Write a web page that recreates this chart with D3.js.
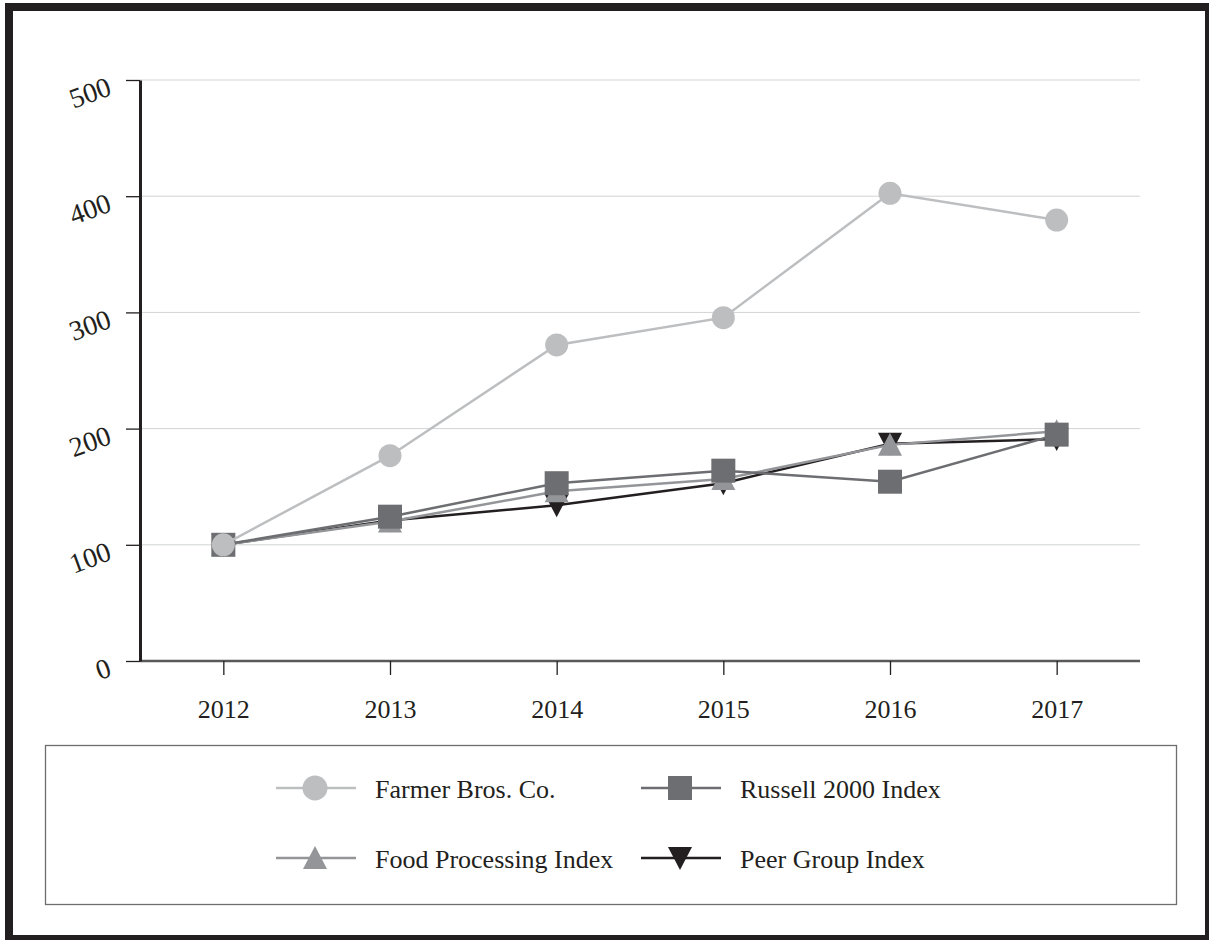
<!DOCTYPE html>
<html>
<head>
<meta charset="utf-8">
<script src="https://cdn.jsdelivr.net/npm/d3@7"></script>
<style>
    body { margin: 0; background: #fff; }
    svg { display: block; font-family: "Liberation Serif", "Times New Roman", serif; }
</style>
</head>
<body>
<div id="chart"></div>
<script>
const years = ['2012', '2013', '2014', '2015', '2016', '2017'];
const farmerBros = [100, 176.7, 272, 295.5, 402.5, 379.5];
const russell2000 = [100, 124.2, 153, 163.8, 154.3, 194.8];
const foodProcessing = [100, 120, 146, 156.6, 186, 197.7];
const peerGroup = [100, 121, 134, 153, 187, 191];
const yTicks = [0, 100, 200, 300, 400, 500];

const series = [
    { name: 'Peer Group Index', values: peerGroup, color: '#231f20', marker: 'down' },
    { name: 'Food Processing Index', values: foodProcessing, color: '#939598', marker: 'up' },
    { name: 'Russell 2000 Index', values: russell2000, color: '#6d6e71', marker: 'square' },
    { name: 'Farmer Bros. Co.', values: farmerBros, color: '#bcbec0', marker: 'circle' }
];

const legendOrder = [
    { name: 'Farmer Bros. Co.', color: '#bcbec0', marker: 'circle', col: 0, row: 0 },
    { name: 'Russell 2000 Index', color: '#6d6e71', marker: 'square', col: 1, row: 0 },
    { name: 'Food Processing Index', color: '#939598', marker: 'up', col: 0, row: 1 },
    { name: 'Peer Group Index', color: '#231f20', marker: 'down', col: 1, row: 1 }
];

const W = 1209, H = 940;
const svg = d3.select('#chart').append('svg')
    .attr('width', W)
    .attr('height', H);

// outer frame
svg.append('rect')
    .attr('x', 9).attr('y', 7)
    .attr('width', 1200).attr('height', 932)
    .attr('fill', '#fff')
    .attr('stroke', '#231f20')
    .attr('stroke-width', 8);

const x = d3.scalePoint().domain(years).range([140, 1140]).padding(0.5);
const y = d3.scaleLinear().domain([0, 500]).range([661, 80]);

// gridlines
svg.append('g')
    .selectAll('line')
    .data(yTicks.filter(d => d > 0))
    .enter().append('line')
    .attr('x1', 140).attr('x2', 1140)
    .attr('y1', d => y(d)).attr('y2', d => y(d))
    .attr('stroke', '#d1d3d4')
    .attr('stroke-width', 1);

// x axis
const xAxis = svg.append('g')
    .attr('transform', 'translate(0,661)')
    .call(d3.axisBottom(x).tickSize(14).tickSizeOuter(0));
xAxis.select('.domain').attr('stroke', '#58595b').attr('stroke-width', 2.5)
    .attr('d', 'M140,0H1140');
xAxis.selectAll('.tick line').attr('stroke', '#231f20').attr('stroke-width', 1.3);
xAxis.selectAll('.tick text')
    .attr('y', 57).attr('dy', 0)
    .attr('fill', '#231f20')
    .style('font-family', '"Liberation Serif", serif')
    .style('font-size', '26px');

// y axis
const yAxis = svg.append('g')
    .attr('transform', 'translate(140,0)')
    .call(d3.axisLeft(y).tickValues(yTicks).tickSize(14).tickSizeOuter(0));
yAxis.select('.domain').attr('stroke', '#231f20').attr('stroke-width', 3);
yAxis.selectAll('.tick line').attr('stroke', '#231f20').attr('stroke-width', 1.3);
yAxis.selectAll('.tick text')
    .attr('x', 0).attr('dy', 0)
    .attr('transform', 'translate(-27,14) rotate(-20)')
    .attr('fill', '#231f20')
    .style('font-family', '"Liberation Serif", serif')
    .style('font-size', '28px');

function markerPath(type, s) {
    const h = s / 2;
    if (type === 'square') return `M${-h},${-h}h${s}v${s}h${-s}Z`;
    if (type === 'up') return `M0,${-h}L${h},${h - 1}L${-h},${h - 1}Z`;
    if (type === 'down') return `M0,${h}L${h},${-h + 1}L${-h},${-h + 1}Z`;
    return d3.symbol(d3.symbolCircle, Math.PI * h * h)();
}

const line = d3.line()
    .x((d, i) => x(years[i]))
    .y(d => y(d));

series.forEach(s => {
    const g = svg.append('g');
    g.append('path')
        .datum(s.values)
        .attr('fill', 'none')
        .attr('stroke', s.color)
        .attr('stroke-width', 2.5)
        .attr('d', line);
    g.selectAll('path.marker')
        .data(s.values)
        .enter().append('path')
        .attr('class', 'marker')
        .attr('transform', (d, i) => `translate(${x(years[i])},${y(d)})`)
        .attr('d', markerPath(s.marker, s.marker === 'circle' ? 23 : 24))
        .attr('fill', s.color);
});

// legend
svg.append('rect')
    .attr('x', 45.5).attr('y', 745.5)
    .attr('width', 1131).attr('height', 159)
    .attr('fill', 'none')
    .attr('stroke', '#6d6e70')
    .attr('stroke-width', 1.3);

const colX = [276, 641];
const rowY = [788, 858];
const legend = svg.append('g')
    .selectAll('g')
    .data(legendOrder)
    .enter().append('g')
    .attr('transform', d => `translate(${colX[d.col]},${rowY[d.row]})`);

legend.append('line')
    .attr('x1', 0).attr('x2', 80)
    .attr('stroke', d => d.color)
    .attr('stroke-width', 2.5);
legend.append('path')
    .attr('transform', 'translate(39,0)')
    .attr('d', d => markerPath(d.marker, d.marker === 'circle' ? 25 : 24))
    .attr('fill', d => d.color);
legend.append('text')
    .attr('x', 99)
    .attr('y', 10)
    .attr('fill', '#231f20')
    .style('font-size', '26px')
    .text(d => d.name);
</script>
</body>
</html>
